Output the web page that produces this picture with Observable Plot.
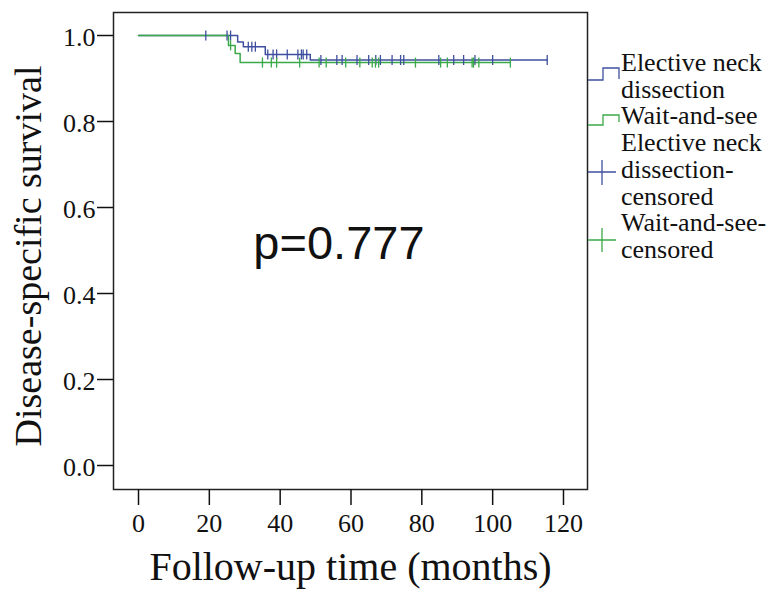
<!DOCTYPE html>
<html>
<head>
<meta charset="utf-8">
<script src="https://cdn.jsdelivr.net/npm/d3@7"></script>
<script src="https://cdn.jsdelivr.net/npm/@observablehq/plot@0.6"></script>
<style>
  body { margin: 0; background: #fff; }
  #wrap { position: relative; width: 771px; height: 592px; overflow: hidden; background: #fff; }
  #legend { position: absolute; left: 621px; top: 50px; font-family: "Liberation Serif", "Times New Roman", serif;
            font-size: 26px; line-height: 26.7px; color: #111; white-space: nowrap; }
  #legsym { position: absolute; left: 0; top: 0; pointer-events: none; }
</style>
</head>
<body>
<div id="wrap"></div>
<script>
// ---- data ----
const groups = ["Elective neck dissection", "Wait-and-see"];
const groupColors = ["#3e4f9f", "#3aa94a"];

// Elective neck dissection: event times (months) and survival after each event
const endEventTimes = [28.0, 29.6, 35.8, 48.5];
const endEventSurv = [0.985, 0.974, 0.956, 0.943];
const endCensored = [19, 25, 26, 31, 32, 33, 36.5, 38, 39, 42, 45, 46, 46.5, 47.5, 51.5, 56, 57.5,
                     61.7, 65, 67, 68.3, 71.6, 74, 74.9, 84.8, 89, 91.8, 95, 100, 115.4];

// Wait-and-see
const wasEventTimes = [25.4, 27.3, 28.7];
const wasEventSurv = [0.977, 0.958, 0.937];
const wasCensored = [26, 35, 37.5, 39, 45.5, 51, 53, 58.5, 62.5, 66, 66.9, 67.8, 78.2, 85.3, 87.2,
                     94.2, 94.6, 96.1, 105];

const xTicks = [0, 20, 40, 60, 80, 100, 120];
const yTicks = [0, 0.2, 0.4, 0.6, 0.8, 1.0];
const xTitle = "Follow-up time (months)";
const yTitle = "Disease-specific survival";
const pLabel = "p=0.777";
const legendLabels = ["Elective neck<br>dissection", "Wait-and-see",
                      "Elective neck<br>dissection-<br>censored", "Wait-and-see-<br>censored"];

// ---- build tables ----
function survAt(times, surv, t) {
  let s = 1;
  for (let i = 0; i < times.length; i++) if (times[i] <= t) s = surv[i];
  return s;
}
function buildLine(group, times, surv, cens) {
  const end = Math.max(...cens, ...times);
  const pts = [{group, t: 0, s: 1}];
  times.forEach((t, i) => pts.push({group, t, s: surv[i]}));
  pts.push({group, t: end, s: survAt(times, surv, end)});
  return pts;
}
const lineData = [
  ...buildLine(groups[0], endEventTimes, endEventSurv, endCensored),
  ...buildLine(groups[1], wasEventTimes, wasEventSurv, wasCensored)
];
const censData = [
  ...endCensored.map(t => ({group: groups[0], t, s: survAt(endEventTimes, endEventSurv, t)})),
  ...wasCensored.map(t => ({group: groups[1], t, s: survAt(wasEventTimes, wasEventSurv, t)}))
];

const tickSymbol = {
  draw(context, size) {
    const r = Math.sqrt(size / Math.PI);
    context.moveTo(0, -r);
    context.lineTo(0, r);
  }
};

const serif = "'Liberation Serif', 'Times New Roman', serif";
const fmt1 = d3.format(".1f");

const chart = Plot.plot({
  width: 771, height: 592,
  marginLeft: 113, marginRight: 184, marginTop: 12, marginBottom: 103,
  x: {domain: [-7.06, 126.78]},
  y: {domain: [-0.0558, 1.0535]},
  color: {domain: groups, range: groupColors},
  style: {fontFamily: serif, fontSize: "26px", color: "#111", background: "white"},
  marks: [
    Plot.frame({stroke: "#222", strokeWidth: 1.5}),
    Plot.axisX({ticks: xTicks, tickSize: 16, tickFormat: () => "", label: null, strokeWidth: 1.5}),
    Plot.axisY({ticks: yTicks, tickSize: 16, tickFormat: () => "", label: null, strokeWidth: 1.5}),
    Plot.text(xTicks, {x: d => d, frameAnchor: "bottom", lineAnchor: "top", dy: 24, text: d => String(d),
                       fontSize: 26, fontFamily: serif, fill: "#111"}),
    Plot.text(yTicks, {y: d => d, frameAnchor: "left", textAnchor: "end", lineAnchor: "middle", dx: -18, dy: 2,
                       text: d => fmt1(d), fontSize: 26, fontFamily: serif, fill: "#111"}),
    Plot.line(lineData, {x: "t", y: "s", z: "group", stroke: "group", curve: "step-after", strokeWidth: 1.5}),
    Plot.dot(censData, {x: "t", y: "s", stroke: "group", fill: "none", symbol: tickSymbol, r: 5, strokeWidth: 1.3}),
    Plot.text([pLabel], {x: 56.6, y: 0.516, fontSize: 47, fontFamily: "'Liberation Sans', Arial, sans-serif", fill: "#111"}),
    Plot.text([xTitle], {frameAnchor: "bottom", lineAnchor: "middle", dy: 78, fontSize: 40, fontFamily: serif, fill: "#111"}),
    Plot.text([yTitle], {frameAnchor: "left", textAnchor: "middle", lineAnchor: "middle", rotate: -90, dx: -85, dy: 5, fontSize: 38, fontFamily: serif, fill: "#111"})
  ]
});

const wrap = document.getElementById("wrap");
wrap.appendChild(chart);

// ---- legend ----
const legend = document.createElement("div");
legend.id = "legend";
legend.innerHTML = legendLabels.join("<br>");
wrap.appendChild(legend);

const ns = "http://www.w3.org/2000/svg";
const sym = document.createElementNS(ns, "svg");
sym.setAttribute("id", "legsym");
sym.setAttribute("width", 771);
sym.setAttribute("height", 592);
const symPaths = [
  {d: "M588,80H603V68H619V79", c: groupColors[0]},
  {d: "M588,125H603V115H619V122", c: groupColors[1]},
  {d: "M588,172H616M602,160V185", c: groupColors[0]},
  {d: "M588,240H616M602,228V252", c: groupColors[1]}
];
symPaths.forEach(p => {
  const path = document.createElementNS(ns, "path");
  path.setAttribute("d", p.d);
  path.setAttribute("fill", "none");
  path.setAttribute("stroke", p.c);
  path.setAttribute("stroke-width", 1.3);
  sym.appendChild(path);
});
wrap.appendChild(sym);
</script>
</body>
</html>
